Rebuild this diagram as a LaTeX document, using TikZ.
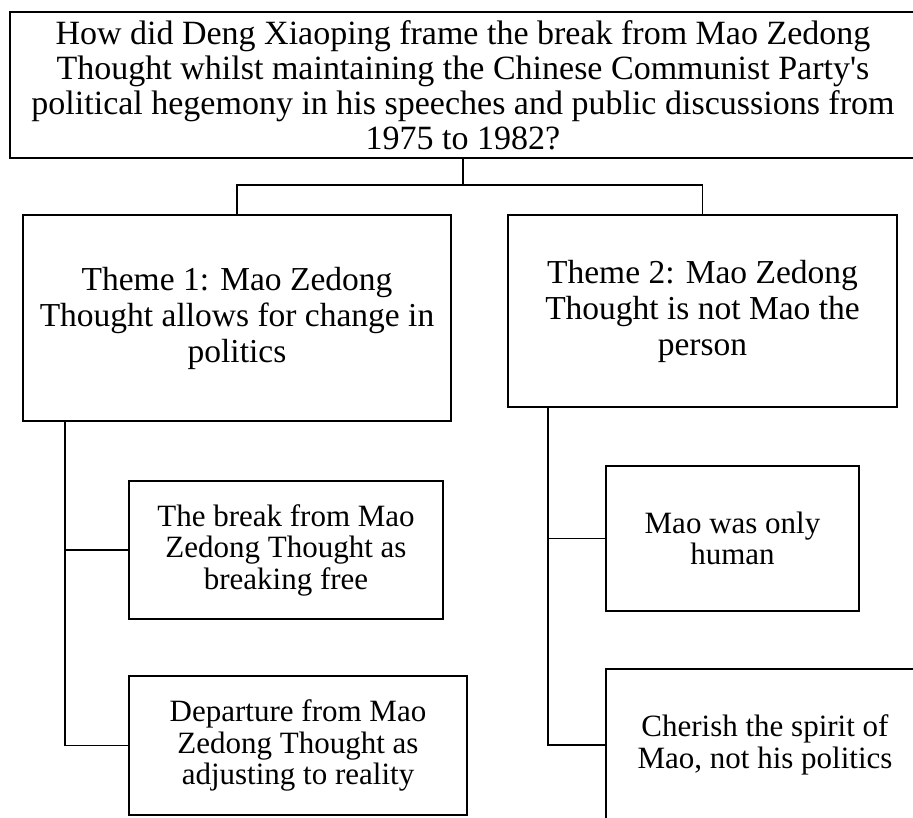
\documentclass[tikz,border=0pt]{standalone}
\usepackage{fontspec}
\newfontfamily\tnr{Liberation Serif}
\begin{document}
\begin{tikzpicture}[x=1pt,y=-1pt,
  box/.style={draw=black, line width=1.5pt, fill=white, align=center, inner sep=0pt},
  link/.style={draw=black, line width=1.5pt},
  bigtext/.style={font=\tnr\fontsize{34}{35}\selectfont},
  themetext/.style={font=\tnr\fontsize{33.5}{36}\selectfont},
  subtext/.style={font=\tnr\fontsize{31}{31.5}\selectfont}]
\useasboundingbox (0,0) rectangle (913,817);
\clip (0,0) rectangle (913,817);
\fill[white] (0,0) rectangle (913,817);

\node[box, bigtext, minimum width=906pt, minimum height=146pt] (top) at (463,85)
  {How did Deng Xiaoping frame the break from Mao Zedong\\Thought whilst maintaining the Chinese Communist Party's\\political hegemony in his speeches and public discussions from\\1975 to 1982?};

\node[box, themetext, minimum width=428pt, minimum height=206pt] (t1) at (237,318)
  {Theme 1: Mao Zedong\\Thought allows for change in\\politics};
\node[box, themetext, minimum width=389pt, minimum height=192pt] (t2) at (702.5,311)
  {Theme 2: Mao Zedong\\Thought is not Mao the\\person};

\node[box, subtext, minimum width=314pt, minimum height=138pt] (a1) at (286,550)
  {The break from Mao\\Zedong Thought as\\breaking free};
\node[box, subtext, minimum width=338pt, minimum height=139pt] (a2) at (298,745.5)
  {Departure from Mao\\Zedong Thought as\\adjusting to reality};

\node[box, subtext, minimum width=253pt, minimum height=145pt] (b1) at (732.5,538.5)
  {Mao was only\\human};
\node[box, subtext, minimum width=318pt, minimum height=152pt] (b2) at (765,745)
  {Cherish the spirit of\\Mao, not his politics};

\coordinate (mid) at (463,185);
\coordinate (lx) at (65,0);
\coordinate (rx) at (548,0);

\draw[link] (top.south) -- (mid) -| (t1.north);
\draw[link] (mid) -| (t2.north);

\draw[link] (lx |- t1.south) |- (a2.west);
\draw[link] (lx |- a1.west) -- (a1.west);

\draw[link] (rx |- t2.south) |- (b2.west);
\draw[link] (rx |- b1.west) -- (b1.west);
\end{tikzpicture}
\end{document}
